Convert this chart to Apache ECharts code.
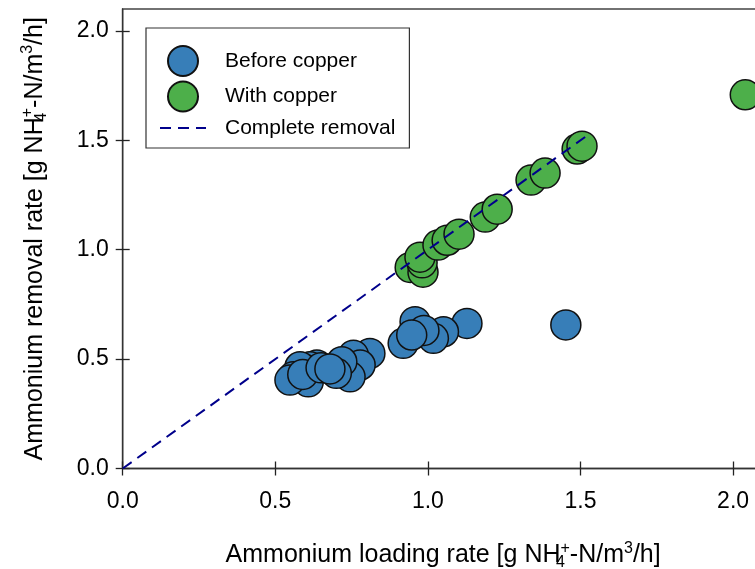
<!DOCTYPE html>
<html><head><meta charset="utf-8">
<script src="https://cdn.jsdelivr.net/npm/echarts@6/dist/echarts.min.js"></script>
<style>html,body{margin:0;padding:0;background:#fff}#c{width:755px;height:569px}</style>
</head><body><div id="c"></div>
<script>
const beforeX = [1.128, 0.958, 1.051, 1.018, 0.987, 0.919, 0.947, 1.452,
  0.810, 0.756, 0.778, 0.745, 0.718, 0.700, 0.636, 0.614, 0.603, 0.581, 0.559, 0.608, 0.548, 0.590, 0.650, 0.679];
const beforeY = [0.663, 0.671, 0.625, 0.595, 0.631, 0.572, 0.610, 0.656,
  0.526, 0.518, 0.473, 0.419, 0.488, 0.435, 0.473, 0.465, 0.450, 0.465, 0.419, 0.396, 0.404, 0.430, 0.460, 0.455];
const withX = [0.942, 0.984, 0.981, 0.974, 1.033, 1.063, 1.102, 1.188, 1.227, 1.338, 1.384, 1.489, 1.505, 2.040];
const withY = [0.919, 0.897, 0.940, 0.966, 1.021, 1.043, 1.071, 1.149, 1.185, 1.318, 1.350, 1.460, 1.473, 1.708];
const lineX = [0, 1.52];
const lineY = [0, 1.52];
const tickValues = [0, 0.5, 1.0, 1.5, 2.0];
const seriesNames = ['Before copper', 'With copper', 'Complete removal'];

const zip = (a, b) => a.map((v, i) => [v, b[i]]);
const FONT = "'Liberation Sans', Arial, sans-serif";
const rich = {
  b: { fontSize: 25, fontFamily: FONT, color: '#000', lineHeight: 36, verticalAlign: 'middle' },
  sub: { fontSize: 16, fontFamily: FONT, color: '#000', lineHeight: 16, verticalAlign: 'bottom', width: 0, padding: [0, 0, 3, 0] },
  sup: { fontSize: 16, fontFamily: FONT, color: '#000', lineHeight: 16, verticalAlign: 'top', padding: [3, 0, 0, 0] }
};
const xName = '{b|Ammonium loading rate [g NH}{sub|4}{sup|+}{b|-N/m}{sup|3}{b|/h]}';
const yName = '{b|Ammonium removal rate [g NH}{sub|4}{sup|+}{b|-N/m}{sup|3}{b|/h]}';

const axisCommon = {
  min: 0, max: 2.1, interval: 0.5,
  splitLine: { show: false },
  axisLine: { show: true, onZero: false, lineStyle: { color: '#333', width: 1.3 } },
  axisTick: { show: true, inside: false, length: 7, customValues: tickValues, lineStyle: { color: '#222', width: 1.3 } },
  axisLabel: { customValues: tickValues, formatter: v => v.toFixed(1), fontSize: 23, fontFamily: FONT, color: '#000' }
};
const innerAxis = {
  min: 0, max: 2.1, interval: 0.5,
  splitLine: { show: false },
  axisLine: { show: false },
  axisLabel: { show: false },
  axisTick: { show: true, inside: true, length: 7, customValues: tickValues, lineStyle: { color: '#222', width: 1.3 } }
};

const chart = echarts.init(document.getElementById('c'), null, { renderer: 'canvas' });
chart.setOption({
  animation: false,
  backgroundColor: '#fff',
  grid: { left: 122.7, top: 9, right: -8.6, bottom: 100.5, outerBoundsMode: 'none', containLabel: false,
    show: true, borderColor: '#444', borderWidth: 1.5, backgroundColor: 'transparent' },
  legend: {
    data: [seriesNames[0], seriesNames[1], { name: seriesNames[2], itemStyle: { opacity: 0 } }],
    orient: 'vertical', left: 146, top: 28,
    padding: [17, 14, 8, 13],
    itemWidth: 46, itemHeight: 30, itemGap: 3.5,
    borderColor: '#333', borderWidth: 1.2,
    textStyle: { fontSize: 21, fontFamily: FONT, color: '#000', padding: [0, 0, 0, 14] }
  },
  xAxis: [
    Object.assign({ type: 'value', position: 'bottom', name: xName, nameLocation: 'middle', nameGap: 69,
      nameTextStyle: { rich: rich } }, axisCommon, { axisLabel: Object.assign({}, axisCommon.axisLabel, { margin: 22 }) }),
    Object.assign({ type: 'value', position: 'bottom' }, innerAxis)
  ],
  yAxis: [
    Object.assign({ type: 'value', position: 'left', name: yName, nameLocation: 'middle', nameGap: 70, nameRotate: 90,
      nameTextStyle: { rich: rich } }, axisCommon, { axisLabel: Object.assign({}, axisCommon.axisLabel, { margin: 14 }) }),
    Object.assign({ type: 'value', position: 'left' }, innerAxis)
  ],
  series: [
    { name: seriesNames[0], type: 'scatter', xAxisIndex: 0, yAxisIndex: 0, data: zip(beforeX, beforeY), symbol: 'circle', symbolSize: 30,
      itemStyle: { color: '#377eb8', borderColor: '#111', borderWidth: 1.5, opacity: 1 } },
    { name: seriesNames[1], type: 'scatter', xAxisIndex: 0, yAxisIndex: 0, data: zip(withX, withY), symbol: 'circle', symbolSize: 30,
      itemStyle: { color: '#4daf4a', borderColor: '#111', borderWidth: 1.5, opacity: 1 } },
    { name: seriesNames[2], type: 'line', xAxisIndex: 0, yAxisIndex: 0, data: zip(lineX, lineY), symbol: 'none', z: 5,
      lineStyle: { color: '#00008b', width: 2, type: [11, 7] }, itemStyle: { color: '#00008b' } }
  ]
});
</script></body></html>
